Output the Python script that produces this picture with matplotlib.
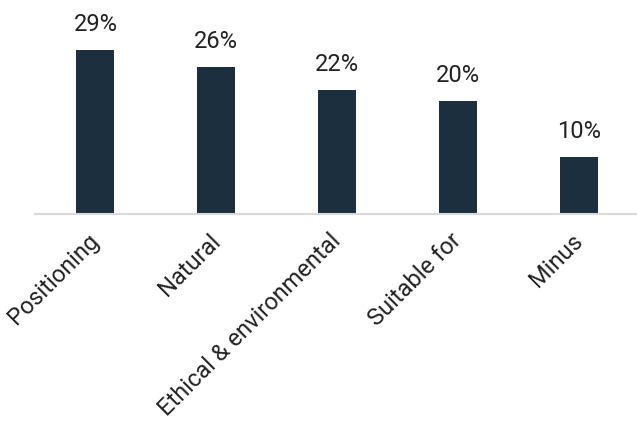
import matplotlib
matplotlib.use("Agg")
import matplotlib.pyplot as plt
from matplotlib.transforms import ScaledTranslation

categories = ["Positioning", "Natural", "Ethical & environmental", "Suitable for", "Minus"]
values = [29, 26, 22, 20, 10]
labels = [f"{v}%" for v in values]

plt.rcParams['font.family'] = ['Roboto', 'DejaVu Sans']

fig = plt.figure(figsize=(6.37, 4.21), dpi=100)
ax = fig.add_axes([35/637, 1 - 214/421, 1 - 35/637, (214 - 10.4)/421])
x = list(range(len(categories)))
bars = ax.bar(x, values, width=0.314, color="#1b2f3e")
for xi, v, lab in zip(x, values, labels):
    ax.annotate(lab, (xi, v), xytext=(0, 14), textcoords="offset pixels",
                ha="center", va="bottom", fontsize=17, color="#222222")
ax.set_xlim(-0.5, 4.48)
ax.set_ylim(0, 36)
for s in ["top", "right", "left"]:
    ax.spines[s].set_visible(False)
ax.spines["bottom"].set_color("#d9d9d9")
ax.spines["bottom"].set_linewidth(1.5)
ax.set_yticks([])
ax.set_xticks(x)
ax.set_xticklabels(categories, rotation=45, ha="right", rotation_mode="anchor", fontsize=17, color="#222222")
ax.tick_params(axis="x", length=0, pad=6)
off = ScaledTranslation(-0.08, -0.07, fig.dpi_scale_trans)
for t in ax.get_xticklabels():
    t.set_transform(t.get_transform() + off)
fig.savefig("out.png", dpi=100)
